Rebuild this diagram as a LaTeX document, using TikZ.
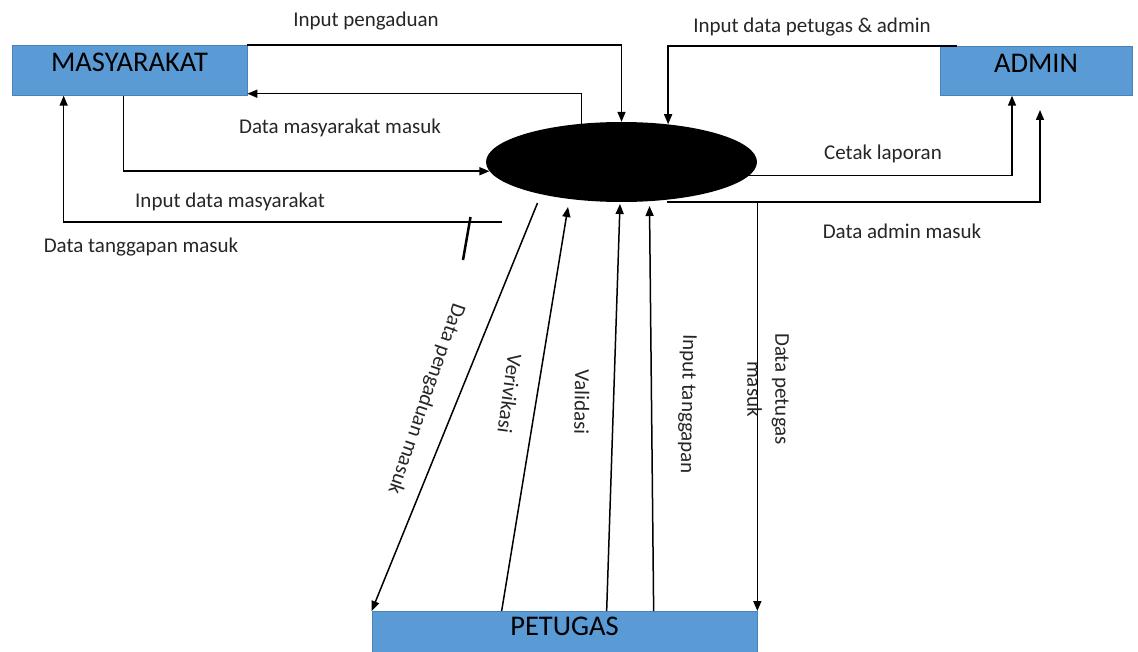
\documentclass[tikz,border=0pt]{standalone}
\usepackage{fontspec}
\setmainfont{Carlito}
\usetikzlibrary{shapes.geometric,arrows.meta}
\definecolor{boxblue}{HTML}{5B9BD5}
\definecolor{boxline}{HTML}{4A82B8}
\begin{document}
\begin{tikzpicture}[x=1pt,y=-1pt,
  entity/.style={draw=boxline, line width=0.7pt, fill=boxblue, font=\fontsize{28.5}{34}\selectfont,
    inner xsep=0pt, inner ysep=0pt, anchor=north, text height=26pt, text depth=24pt},
  flow/.style={draw=black, line width=1.5pt, -{Triangle[length=10pt,width=8pt]}},
  lbl/.style={font=\fontsize{21}{28}\selectfont, text=black!85, inner sep=0pt, align=center},
]
\fill[white] (0,0) rectangle (1138,652);
\useasboundingbox (0,0) rectangle (1138,652);

% entities and process
\node[entity, minimum width=235pt] (mas) at (129.5,45) {MASYARAKAT};
\node[entity, minimum width=192pt, text depth=23pt] (adm) at (1036,46) {ADMIN};
\node[entity, minimum width=385pt, text height=24pt, text depth=21pt] (pet) at (564.5,611) {PETUGAS};
\node[ellipse, fill=black, minimum width=271pt, minimum height=80pt, inner sep=0pt] (proc) at (621.5,162) {};

% free ends
\coordinate (tgstart) at (502,222);
\coordinate (admstart) at (667,202);
\coordinate (admend) at (1040,110);
\coordinate (dpstart) at (537.5,203);
\coordinate (verend) at (568,207);
\coordinate (valend) at (620,204);
\coordinate (itend) at (649.5,206);

% Masyarakat flows
\draw[flow] (mas.north east) -| (proc.north);
\draw[flow] (proc.136) |- ([yshift=2pt]mas.south east);
\draw[flow] ([xshift=112pt]mas.south west) |- (proc.184);
\draw[flow] (tgstart) -| ([xshift=52pt]mas.south west);
\draw[black, line width=2.5pt] (470.5,217) -- (463,260);

% Admin flows
\draw[flow] ([xshift=17pt]adm.north west) -| (proc.39);
\draw[flow] (proc.-6) -| ([xshift=-24pt]adm.south);
\draw[flow] (admstart) -| (admend);

% Petugas flows
\draw[flow] (admstart -| pet.north east) -- (pet.north east);
\draw[flow] (dpstart) -- (pet.north west);
\draw[flow] ([xshift=130pt]pet.north west) -- (verend);
\draw[flow] ([xshift=235pt]pet.north west) -- (valend);
\draw[flow] ([xshift=282pt]pet.north west) -- (itend);

% labels
\node[lbl] (l1) at (366,21) {Input pengaduan};
\node[lbl] (l2) at (812,27) {Input data petugas \& admin};
\node[lbl] (l3) at (340,128) {Data masyarakat masuk};
\node[lbl] (l4) at (230,202) {Input data masyarakat};
\node[lbl] (l5) at (141,247) {Data tanggapan masuk};
\node[lbl] (l6) at (883,154) {Cetak laporan};
\node[lbl] (l7) at (902,231) {Data admin masuk};
\node[lbl, rotate=-109] (l8) at (426,399) {Data pengaduan masuk};
\node[lbl, rotate=-97.7] (l9) at (510,394) {Verivikasi};
\node[lbl, rotate=-91] (l10) at (582,402) {Validasi};
\node[lbl, rotate=-91] (l11) at (687,404) {Input tanggapan};
\node[lbl, rotate=-90] (l12) at (768,389) {Data petugas\\masuk};
\end{tikzpicture}
\end{document}
